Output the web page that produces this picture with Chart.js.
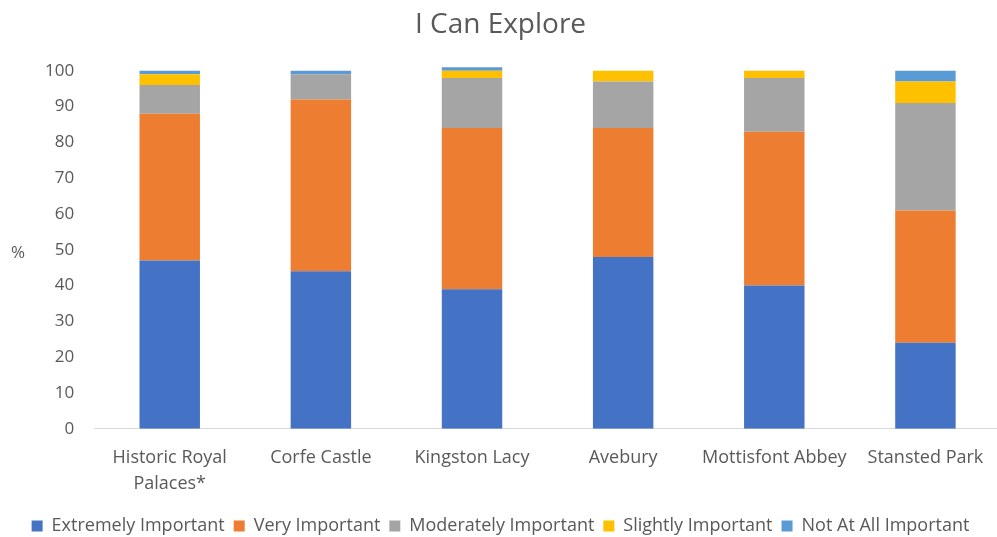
<!DOCTYPE html>
<html>
<head>
<meta charset="utf-8">
<script src="https://cdn.jsdelivr.net/npm/chart.js@4/dist/chart.umd.min.js"></script>
<style>
  html, body { margin: 0; padding: 0; overflow: hidden; background: #fff; }
  #wrap { width: 1001px; height: 537px; position: relative; }
</style>
</head>
<body>
<div id="wrap"><canvas id="c"></canvas></div>
<script>
const categories = [["Historic Royal", "Palaces*"], "Corfe Castle", "Kingston Lacy", "Avebury", "Mottisfont Abbey", "Stansted Park"];
const seriesNames = ["Extremely Important", "Very Important", "Moderately Important", "Slightly Important", "Not At All Important"];
const extremely = [47, 44, 39, 48, 40, 24];
const very = [41, 48, 45, 36, 43, 37];
const moderately = [8, 7, 14, 13, 15, 30];
const slightly = [3, 0, 2, 3, 2, 6];
const notAtAll = [1, 1, 1, 0, 0, 3];
const yTicks = [0, 10, 20, 30, 40, 50, 60, 70, 80, 90, 100];
const colors = ["#4472C4", "#ED7D31", "#A5A5A5", "#FFC000", "#5B9BD5"];

const FONT = "'Open Sans', 'Noto Sans', sans-serif";
const TEXT = "#595959";

const percentLabel = {
  id: 'percentLabel',
  afterDraw(chart) {
    const ctx = chart.ctx;
    ctx.save();
    ctx.font = "17px " + FONT;
    ctx.fillStyle = TEXT;
    ctx.textAlign = 'center';
    ctx.textBaseline = 'middle';
    ctx.fillText('%', 18, 253);
    ctx.restore();
  }
};

const series = [extremely, very, moderately, slightly, notAtAll];
new Chart(document.getElementById('c'), {
  type: 'bar',
  data: {
    labels: categories,
    datasets: series.map((d, i) => ({
      label: seriesNames[i],
      data: d,
      backgroundColor: colors[i],
      borderWidth: 0,
      categoryPercentage: 0.8,
      barPercentage: 0.5
    }))
  },
  options: {
    responsive: true,
    maintainAspectRatio: false,
    animation: false,
    layout: { padding: { left: 0, right: 0, top: 6, bottom: -8 } },
    plugins: {
      title: {
        display: true,
        text: 'I Can Explore',
        color: TEXT,
        font: { family: FONT, size: 28, weight: 'normal' },
        padding: { top: 2, bottom: 22 }
      },
      legend: {
        position: 'bottom',
        labels: {
          color: TEXT,
          font: { family: FONT, size: 18 },
          boxWidth: 11,
          boxHeight: 11,
          padding: 9
        }
      },
      tooltip: { enabled: false }
    },
    scales: {
      x: {
        stacked: true,
        afterFit(axis) { axis.height -= 5; },
        grid: { display: false, drawTicks: false },
        border: { display: true, color: '#D9D9D9', width: 1 },
        ticks: {
          color: TEXT,
          font: { family: FONT, size: 18, lineHeight: 1.45 },
          padding: 16,
          maxRotation: 0,
          autoSkip: false
        }
      },
      y: {
        stacked: true,
        min: 0,
        max: 102,
        afterBuildTicks(axis) { axis.ticks = yTicks.map(v => ({ value: v })); },
        afterFit(axis) { axis.width += 25; },
        grid: { display: false, drawTicks: false },
        border: { display: false },
        ticks: {
          color: TEXT,
          font: { family: FONT, size: 17 },
          padding: 20
        }
      }
    }
  },
  plugins: [percentLabel]
});
</script>
</body>
</html>
